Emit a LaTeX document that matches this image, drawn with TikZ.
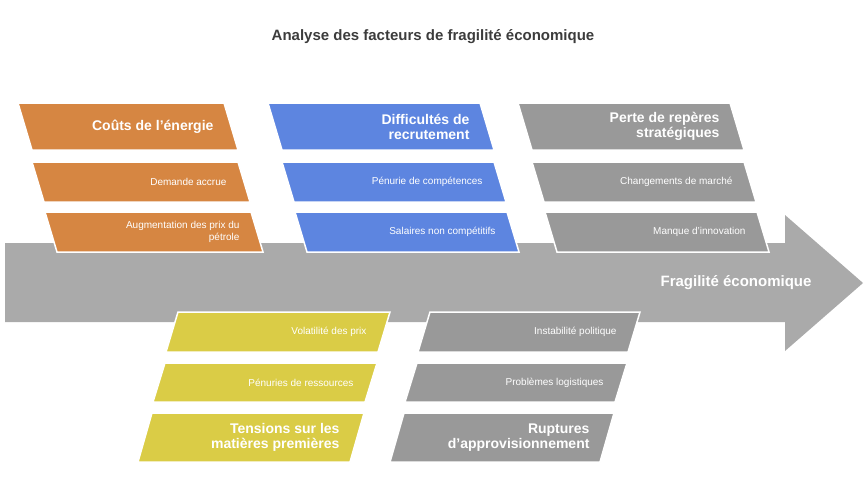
\documentclass[tikz,border=0pt]{standalone}
\usepackage{fontspec}
\setmainfont{Liberation Sans}
\definecolor{cor}{RGB}{214,134,66}
\definecolor{cbl}{RGB}{93,133,224}
\definecolor{cgr}{RGB}{153,153,153}
\definecolor{cye}{RGB}{218,204,70}
\definecolor{carr}{RGB}{170,170,170}
\definecolor{ctit}{RGB}{60,60,60}
\tikzset{
 hd/.style={font=\bfseries\fontsize{14}{15}\selectfont,text=white,align=right,anchor=east},
 sb/.style={font=\fontsize{10}{12}\selectfont,text=white,align=right,anchor=east},
 pb/.style={draw=white,line width=1.5pt},
}
% #1 name, #2 xTL, #3 xTR, #4 yT, #5 yB, #6 bottom shift, #7 colour, #8 style, #9 text
\newcommand\pbx[9]{%
 \fill[#7] (#2,#4) -- (#3,#4) -- (#3+#6,#5) -- (#2+#6,#5) -- cycle;
 \draw[pb] (#2,#4) -- (#3,#4) -- (#3+#6,#5) -- (#2+#6,#5) -- cycle;
 \node[#8] (#1) at ({#3+#6/2-14},{(#4+#5)/2}) {#9};}
\begin{document}
\begin{tikzpicture}[x=1pt,y=-1pt]
\useasboundingbox (0,0) rectangle (867,487);
\node[font=\bfseries\fontsize{15}{17}\selectfont,text=ctit] (title) at (433,37) {Analyse des facteurs de fragilité économique};
\fill[carr] (5,243) -- (785,243) -- (785,215) -- (863,283) -- (785,351) -- (785,322) -- (5,322) -- cycle;
\node[font=\bfseries\fontsize{15}{17}\selectfont,text=white,anchor=east] (main) at (815,283) {Fragilité économique};
% top
\pbx{a1}{18}{224}{103}{150}{14}{cor}{hd}{Coûts de l'énergie}
\pbx{a2}{32}{238}{162}{202}{12}{cor}{sb}{Demande accrue}
\pbx{a3}{45}{251}{212}{252}{12}{cor}{sb}{Augmentation des prix du\\pétrole}
\pbx{b1}{268}{480}{103}{150}{14}{cbl}{hd}{Difficultés de\\recrutement}
\pbx{b2}{282}{494}{162}{202}{12}{cbl}{sb}{Pénurie de compétences}
\pbx{b3}{295}{507}{212}{252}{12}{cbl}{sb}{Salaires non compétitifs}
\pbx{c1}{518}{730}{103}{150}{14}{cgr}{hd}{Perte de repères\\stratégiques}
\pbx{c2}{532}{744}{162}{202}{12}{cgr}{sb}{Changements de marché}
\pbx{c3}{545}{757}{212}{252}{12}{cgr}{sb}{Manque d'innovation}
% bottom
\pbx{d1}{178}{390}{312}{352}{-12}{cye}{sb}{Volatilité des prix}
\pbx{d2}{165}{377}{363}{402}{-12}{cye}{sb}{Pénuries de ressources}
\pbx{d3}{152}{364}{413}{462}{-14}{cye}{hd}{Tensions sur les\\matières premières}
\pbx{e1}{430}{640}{312}{352}{-12}{cgr}{sb}{Instabilité politique}
\pbx{e2}{417}{627}{363}{402}{-12}{cgr}{sb}{Problèmes logistiques}
\pbx{e3}{404}{614}{413}{462}{-14}{cgr}{hd}{Ruptures\\d'approvisionnement}
\end{tikzpicture}
\end{document}
